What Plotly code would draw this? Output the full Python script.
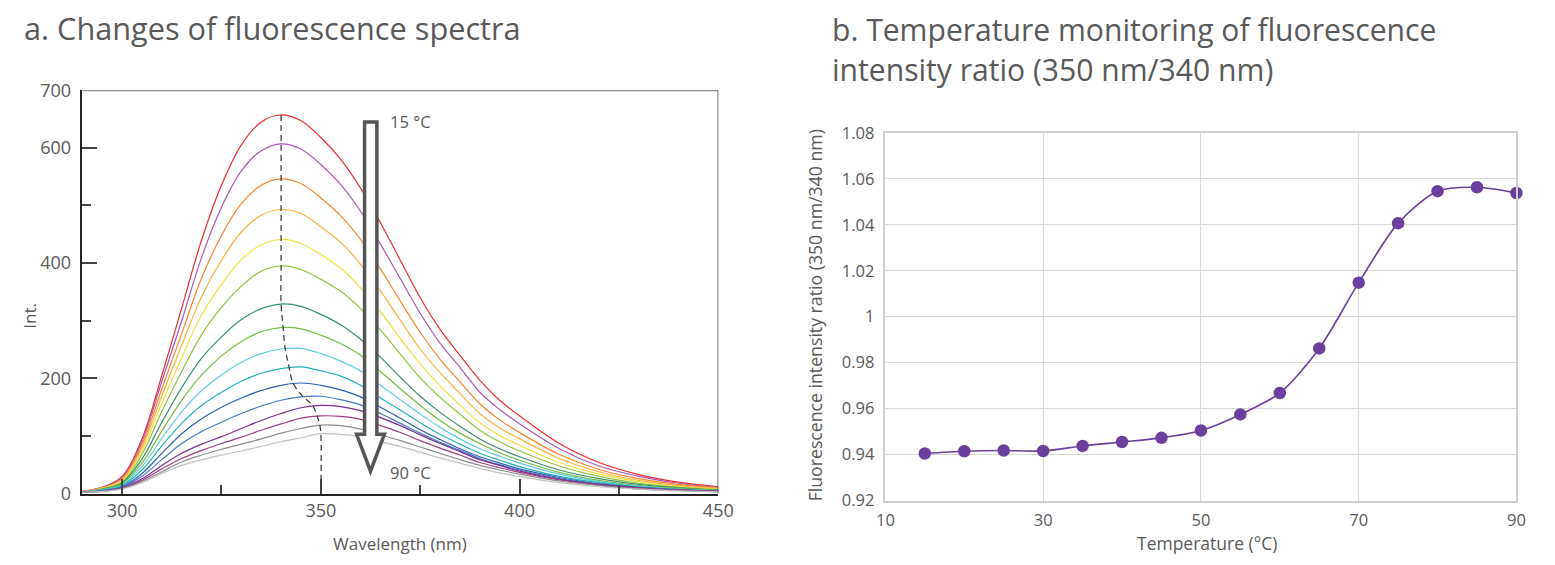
import plotly.graph_objects as go

# ---------------- Panel a: fluorescence spectra ----------------
wavelength = [290, 295, 300, 305, 310, 315, 320, 325, 330, 335, 340, 345, 350, 355,
              360, 365, 370, 375, 380, 385, 390, 395, 400, 410, 420, 430, 440, 450]

int_15 = [4, 11, 30, 95, 205, 322, 440, 535, 605, 645, 657, 647, 618, 580, 530, 470, 405, 340, 285, 240, 197, 162, 135, 87, 54, 33, 20, 12]
int_20 = [4, 11, 28, 90, 195, 300, 410, 497, 560, 595, 607, 598, 571, 536, 490, 433, 373, 313, 261, 219, 176, 146, 121, 78, 48, 30, 18, 11]
int_25 = [4, 10, 26, 85, 182, 278, 374, 448, 503, 535, 546, 538, 513, 482, 441, 390, 334, 280, 233, 194, 156, 128, 106, 68, 42, 26, 16, 10]
int_30 = [3, 10, 24, 80, 170, 258, 342, 405, 454, 483, 493, 486, 463, 436, 398, 352, 301, 251, 210, 174, 139, 114, 95, 61, 38, 23, 14, 9]
int_35 = [3, 9, 22, 74, 157, 236, 310, 363, 406, 432, 441, 434, 415, 391, 357, 316, 269, 225, 187, 154, 123, 101, 84, 54, 34, 21, 12, 8]
int_40 = [3, 8, 20, 68, 143, 212, 276, 323, 360, 386, 395, 389, 372, 351, 321, 284, 242, 201, 167, 138, 110, 90, 74, 48, 30, 18, 11, 7]
int_45 = [3, 8, 19, 60, 124, 184, 235, 272, 302, 321, 329, 325, 311, 293, 268, 237, 202, 169, 141, 117, 95, 78, 64, 41, 26, 16, 10, 6]
int_50 = [3, 7, 17, 53, 109, 162, 206, 239, 264, 281, 288, 286, 275, 260, 240, 212, 182, 153, 127, 105, 87, 71, 58, 37, 23, 14, 9, 5]
int_55 = [3, 7, 15, 47, 96, 142, 179, 206, 228, 243, 251, 252, 243, 230, 213, 188, 163, 138, 115, 95, 78, 65, 53, 34, 21, 13, 8, 5]
int_60 = [2, 6, 14, 41, 83, 122, 153, 176, 195, 209, 217, 220, 213, 204, 188, 166, 145, 123, 103, 86, 70, 58, 47, 30, 19, 12, 7, 4]
int_65 = [2, 5, 12, 35, 70, 104, 130, 150, 166, 179, 188, 192, 188, 180, 168, 150, 131, 111, 94, 78, 64, 53, 43, 28, 17, 11, 7, 4]
int_70 = [2, 5, 11, 30, 59, 87, 108, 124, 139, 152, 162, 168, 169, 163, 154, 139, 122, 105, 89, 75, 61, 50, 41, 26, 16, 10, 6, 4]
int_75 = [2, 5, 10, 26, 49, 70, 86, 99, 113, 127, 139, 149, 153, 151, 144, 132, 118, 102, 87, 73, 59, 49, 39, 25, 16, 10, 6, 4]
int_80 = [2, 4, 9, 23, 43, 61, 75, 87, 98, 110, 121, 131, 135, 134, 129, 118, 106, 92, 79, 67, 54, 45, 37, 24, 15, 9, 6, 4]
int_85 = [2, 4, 9, 21, 38, 55, 67, 77, 86, 95, 105, 113, 119, 118, 112, 102, 92, 81, 70, 59, 49, 41, 34, 22, 14, 8, 5, 3]
int_90 = [2, 4, 8, 19, 35, 49, 59, 67, 74, 82, 90, 97, 104, 103, 99, 90, 82, 72, 62, 53, 44, 36, 30, 19, 12, 8, 5, 3]

spectra = [int_15, int_20, int_25, int_30, int_35, int_40, int_45, int_50,
           int_55, int_60, int_65, int_70, int_75, int_80, int_85, int_90]
spec_temps = [15, 20, 25, 30, 35, 40, 45, 50, 55, 60, 65, 70, 75, 80, 85, 90]
spec_colors = ["#ee2b2f", "#a95ab7", "#f7862f", "#fbb040", "#ece23a", "#8fc33f",
               "#3a8f6c", "#74bd45", "#62cddd", "#25b2b8", "#2c5fb0", "#4579c6",
               "#7a2e8e", "#a03c84", "#8c8c8c", "#c2c2c2"]

# peak positions (dashed guide line)
peak_wl = [340, 340, 340, 340, 340, 340, 340, 340.5, 341, 342, 343, 345.3, 347.8, 349, 349.7, 350, 350]
peak_int = [657, 607, 546, 493, 441, 395, 329, 289, 253, 220, 192, 170, 154, 136, 120, 104, 0]

# ---------------- Panel b: ratio vs temperature ----------------
temperature = [15, 20, 25, 30, 35, 40, 45, 50, 55, 60, 65, 70, 75, 80, 85, 90]
ratio = [0.9405, 0.9415, 0.9418, 0.9416, 0.9438, 0.9455, 0.9473, 0.9505,
         0.9575, 0.9668, 0.9862, 1.0148, 1.0407, 1.0546, 1.0563, 1.0538]

a_xtickvals = [300, 350, 400, 450]
a_xminor = [325, 375, 425]
a_ytickvals = [0, 200, 400, 600, 700]
a_yminor = [100, 300, 500]
b_xtickvals = [10, 30, 50, 70, 90]
b_ytickvals = [0.92, 0.94, 0.96, 0.98, 1.00, 1.02, 1.04, 1.06, 1.08]
b_yticktext = ["0.92", "0.94", "0.96", "0.98", "1", "1.02", "1.04", "1.06", "1.08"]

FONT = "Open Sans"
TXT = "#595959"
W, H = 1555, 565

# map target screen pixels to paper fractions (compensates the page rendering offset/scale)
SX, OX, SY, OY = 0.985, 8.9, 0.96, 11.6


def px(x):
    return (x - OX) / SX / W


def py(y):
    return 1 - (y - OY) / SY / H


fig = go.Figure()

for t, vals, col in zip(spec_temps, spectra, spec_colors):
    fig.add_trace(go.Scatter(x=wavelength, y=vals, mode="lines",
                             line=dict(color=col, width=1.2, shape="spline", smoothing=1.0),
                             name=f"{t} °C", xaxis="x", yaxis="y", showlegend=False,
                             hoverinfo="skip"))

fig.add_trace(go.Scatter(x=peak_wl, y=peak_int, mode="lines",
                         line=dict(color="#333333", width=1.2, dash="6px,4px", shape="spline"),
                         xaxis="x", yaxis="y", showlegend=False, hoverinfo="skip"))

fig.add_trace(go.Scatter(x=temperature, y=ratio, mode="lines+markers",
                         line=dict(color="#6a3f9d", width=1.6, shape="spline", smoothing=0.8),
                         marker=dict(color="#6a3f9d", size=12.5),
                         xaxis="x2", yaxis="y2", showlegend=False, cliponaxis=False))

# hollow arrow (15 °C -> 90 °C)
fig.add_shape(type="path", xref="x", yref="y",
              path="M 361,645 L 364.1,645 L 364.1,103 L 366,103 L 362.5,39 L 359,103 L 361,103 Z",
              line=dict(color="#555555", width=3.5), fillcolor="white", layer="above")

# frame top/right of panel a
fig.add_shape(type="line", xref="x", yref="y", x0=290, x1=450, y0=700, y1=700,
              line=dict(color="#707070", width=2))
fig.add_shape(type="line", xref="x", yref="y", x0=450, x1=450, y0=0, y1=700,
              line=dict(color="#333333", width=1.4))

axis_tick_font = dict(family=FONT, size=18, color=TXT)

fig.update_layout(
    width=W, height=H,
    margin=dict(l=0, r=0, t=0, b=0),
    paper_bgcolor="white", plot_bgcolor="white",
    font=dict(family=FONT, color=TXT),
    xaxis=dict(domain=[px(82.3), px(718.5)], range=[290, 450], tickmode="array",
               tickvals=a_xtickvals, ticks="inside", ticklen=15, tickwidth=1.5,
               tickcolor="#444444", showline=True, linecolor="#222222", linewidth=1.5,
               showgrid=False, zeroline=False, tickfont=axis_tick_font, anchor="y",
               minor=dict(tickmode="array", tickvals=a_xminor, ticks="inside", ticklen=9,
                          tickwidth=1.5, tickcolor="#444444", showgrid=False)),
    yaxis=dict(domain=[py(493.5), py(89)], range=[0, 700], tickmode="array",
               tickvals=a_ytickvals, ticks="inside", ticklen=15, tickwidth=1.5,
               tickcolor="#444444", showline=True, linecolor="#222222", linewidth=1.5,
               showgrid=False, zeroline=False, tickfont=axis_tick_font, anchor="x",
               ticklabelstandoff=6,
               minor=dict(tickmode="array", tickvals=a_yminor, ticks="inside", ticklen=9,
                          tickwidth=1.5, tickcolor="#444444", showgrid=False)),
    xaxis2=dict(domain=[px(885.7), px(1517)], range=[10, 90], tickmode="array",
                tickvals=b_xtickvals, ticks="", showline=True, linecolor="#cfcfcf",
                linewidth=1.5, mirror=True, showgrid=True, gridcolor="#d9d9d9",
                gridwidth=1, zeroline=False, anchor="y2", ticklabelstandoff=4,
                tickfont=dict(family=FONT, size=16.5, color=TXT)),
    yaxis2=dict(domain=[py(500.5), py(131.7)], range=[0.92, 1.08], tickmode="array",
                tickvals=b_ytickvals, ticktext=b_yticktext, ticks="", showline=True,
                linecolor="#cfcfcf", linewidth=1.5, mirror=True, showgrid=True,
                gridcolor="#d9d9d9", gridwidth=1, zeroline=False, anchor="x2",
                ticklabelstandoff=6,
                tickfont=dict(family=FONT, size=16.5, color=TXT)),
)

ann = [
    dict(text="a. Changes of fluorescence spectra", x=px(22), y=py(26.2),
         xanchor="left", yanchor="middle", font=dict(size=30.7)),
    dict(text="b. Temperature monitoring of fluorescence", x=px(830), y=py(28.2),
         xanchor="left", yanchor="middle", font=dict(size=30.1)),
    dict(text="intensity ratio (350 nm/340 nm)", x=px(830), y=py(68.2),
         xanchor="left", yanchor="middle", font=dict(size=30.1)),
    dict(text="Int.", x=px(30), y=py(315), textangle=-90,
         xanchor="center", yanchor="middle", font=dict(size=17)),
    dict(text="Wavelength (nm)", x=px(400), y=py(543),
         xanchor="center", yanchor="middle", font=dict(size=17)),
    dict(text="Fluorescence intensity ratio (350 nm/340 nm)", x=px(815), y=py(315),
         textangle=-90, xanchor="center", yanchor="middle", font=dict(size=17.7)),
    dict(text="Temperature (°C)", x=px(1207), y=py(543),
         xanchor="center", yanchor="middle", font=dict(size=17.5)),
]
for a in ann:
    a.update(xref="paper", yref="paper", showarrow=False)
    a["font"].update(family=FONT, color=TXT)
    fig.add_annotation(**a)

fig.add_annotation(text="15 °C", x=367, y=646, xref="x", yref="y", xanchor="left",
                   yanchor="middle", showarrow=False, font=dict(family=FONT, size=16.5, color=TXT))
fig.add_annotation(text="90 °C", x=367, y=37, xref="x", yref="y", xanchor="left",
                   yanchor="middle", showarrow=False, font=dict(family=FONT, size=16.5, color=TXT))

fig.write_html("out.html")
